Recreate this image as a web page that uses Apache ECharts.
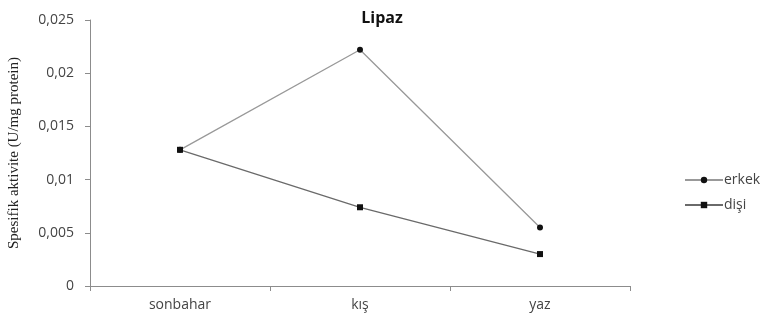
<!DOCTYPE html>
<html>
<head>
<meta charset="utf-8">
<script src="https://cdn.jsdelivr.net/npm/echarts@6/dist/echarts.min.js"></script>
<style>
  html, body { margin: 0; padding: 0; background: #fff; }
  #chart { width: 761px; height: 322px; }
</style>
</head>
<body>
<div id="chart"></div>
<script>
// Seasonal lipase specific activity by sex
const seasons = ['sonbahar', 'kış', 'yaz'];
const erkek = [0.0128, 0.0222, 0.0055];
const disi = [0.0128, 0.0074, 0.0030];
const yTicks = [0, 0.005, 0.01, 0.015, 0.02, 0.025];

const chart = echarts.init(document.getElementById('chart'));
const fmt = v => String(v).replace('.', ',');

chart.setOption({
  backgroundColor: '#ffffff',
  animation: false,
  title: {
    text: 'Lipaz',
    left: 377,
    textAlign: 'center',
    top: 5,
    textStyle: { fontFamily: 'Open Sans', fontSize: 16, fontWeight: 'bold', color: '#111' }
  },
  legend: {
    orient: 'vertical',
    left: 679,
    top: 168,
    itemGap: 11,
    itemWidth: 38,
    itemHeight: 8,
    textStyle: { fontFamily: 'Open Sans', fontSize: 14, color: '#444', padding: [0, 0, 0, -4] },
    data: ['erkek', 'dişi']
  },
  grid: { left: 90, right: 131, top: 20, bottom: 36, containLabel: false, outerBoundsMode: 'none' },
  xAxis: {
    type: 'category',
    data: seasons,
    boundaryGap: true,
    axisLine: { lineStyle: { color: '#8c8c8c', width: 1 } },
    axisTick: { show: true, length: 5, lineStyle: { color: '#8c8c8c' } },
    axisLabel: { fontFamily: 'Open Sans', fontSize: 14, color: '#444', margin: 12 }
  },
  yAxis: {
    type: 'value',
    min: 0,
    max: 0.025,
    interval: 0.005,
    name: 'Spesifik aktivite (U/mg protein)',
    nameLocation: 'middle',
    nameGap: 68,
    nameRotate: 90,
    nameTextStyle: { fontFamily: 'Liberation Serif', fontSize: 15, color: '#222' },
    axisLine: { show: true, lineStyle: { color: '#8c8c8c', width: 1 } },
    axisTick: { show: true, length: 5, lineStyle: { color: '#8c8c8c' } },
    splitLine: { show: false },
    axisLabel: {
      fontFamily: 'Open Sans', fontSize: 14, color: '#444', margin: 16,
      formatter: v => fmt(yTicks.find(t => Math.abs(t - v) < 1e-9) ?? v)
    }
  },
  series: [
    {
      name: 'erkek',
      type: 'line',
      data: erkek,
      symbol: 'circle',
      symbolSize: 6,
      lineStyle: { color: '#999999', width: 1.3 },
      itemStyle: { color: '#111' }
    },
    {
      name: 'dişi',
      type: 'line',
      data: disi,
      symbol: 'rect',
      symbolSize: 6,
      lineStyle: { color: '#6a6a6a', width: 1.3 },
      itemStyle: { color: '#111' }
    }
  ]
});
</script>
</body>
</html>
